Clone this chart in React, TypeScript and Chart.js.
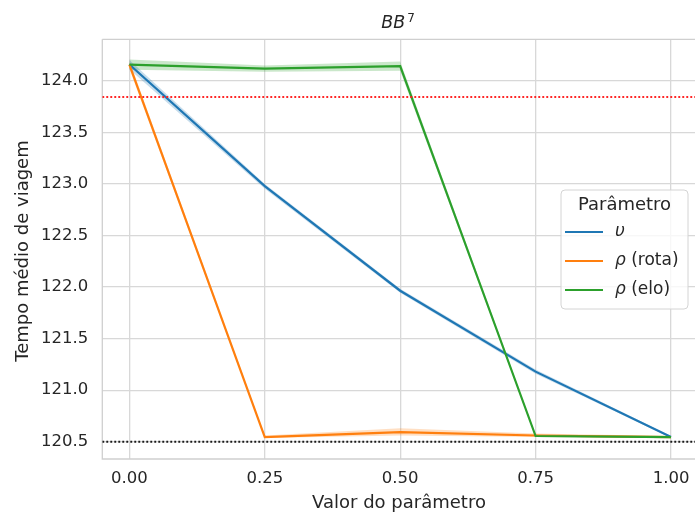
import React, { useEffect, useRef } from "react";
import { Chart, registerables } from "chart.js";

Chart.register(...registerables);

// ---------- data ----------
const xValues = [0, 0.25, 0.5, 0.75, 1.0];
const xTicks = [0, 0.25, 0.5, 0.75, 1.0];
const yTicks = [120.5, 121.0, 121.5, 122.0, 122.5, 123.0, 123.5, 124.0];
const xRange = [-0.05, 1.0443];
const yRange = [120.332, 124.405];

const seriesNames = ["υ", "ρ (rota)", "ρ (elo)"];
const seriesColors = ["#1f77b4", "#ff7f0e", "#2ca02c"];

const upsilonMean = [124.16, 122.98, 121.965, 121.18, 120.545];
const upsilonLow = [124.115, 122.955, 121.945, 121.16, 120.535];
const upsilonHigh = [124.205, 123.0, 121.985, 121.2, 120.555];

const rotaMean = [124.16, 120.545, 120.592, 120.56, 120.545];
const rotaLow = [124.12, 120.535, 120.56, 120.545, 120.535];
const rotaHigh = [124.2, 120.56, 120.63, 120.58, 120.555];

const eloMean = [124.16, 124.12, 124.145, 120.555, 120.545];
const eloLow = [124.11, 124.09, 124.1, 120.545, 120.535];
const eloHigh = [124.21, 124.15, 124.19, 120.57, 120.555];

const refRedValue = 123.845;
const refBlackValue = 120.5;

const FONT = "'DejaVu Sans', sans-serif";
const TEXT = "#262626";

function pts(ys: number[]) {
  return xValues.map((x, i) => ({ x, y: ys[i] }));
}

function hexA(hex: string, a: number) {
  const r = parseInt(hex.slice(1, 3), 16);
  const g = parseInt(hex.slice(3, 5), 16);
  const b = parseInt(hex.slice(5, 7), 16);
  return `rgba(${r},${g},${b},${a})`;
}

const decorPlugin = {
  id: "decor",
  beforeDatasetsDraw(chart: any) {
    const { ctx, chartArea } = chart;
    ctx.save();
    ctx.strokeStyle = "#cfcfcf";
    ctx.lineWidth = 1.3;
    ctx.beginPath();
    ctx.moveTo(chartArea.left, chartArea.top);
    ctx.lineTo(chartArea.right, chartArea.top);
    ctx.moveTo(chartArea.left, chartArea.top);
    ctx.lineTo(chartArea.left, chartArea.bottom);
    ctx.lineTo(chartArea.right, chartArea.bottom);
    ctx.stroke();
    ctx.restore();
  },
  afterDraw(chart: any) {
    const { ctx } = chart;
    ctx.save();
    ctx.fillStyle = TEXT;
    // Title BB^7
    ctx.font = `italic 17.5px ${FONT}`;
    const wBB = ctx.measureText("BB").width;
    ctx.font = `12px ${FONT}`;
    const w7 = ctx.measureText("7").width;
    const total = wBB + 2 + w7;
    const startX = 398 - total / 2;
    ctx.textBaseline = "alphabetic";
    ctx.textAlign = "left";
    ctx.font = `italic 17.5px ${FONT}`;
    ctx.fillText("BB", startX, 28);
    ctx.font = `12px ${FONT}`;
    ctx.fillText("7", startX + wBB + 2, 22);

    // axis labels
    ctx.font = `18px ${FONT}`;
    ctx.textAlign = "center";
    ctx.textBaseline = "middle";
    ctx.fillText("Valor do parâmetro", 399, 503);
    ctx.save();
    ctx.translate(23, 251);
    ctx.rotate(-Math.PI / 2);
    ctx.fillText("Tempo médio de viagem", 0, 0);
    ctx.restore();

    // legend
    const lx = 561, ly = 190, lw = 127, lh = 119, r = 4;
    ctx.beginPath();
    ctx.moveTo(lx + r, ly);
    ctx.lineTo(lx + lw - r, ly);
    ctx.quadraticCurveTo(lx + lw, ly, lx + lw, ly + r);
    ctx.lineTo(lx + lw, ly + lh - r);
    ctx.quadraticCurveTo(lx + lw, ly + lh, lx + lw - r, ly + lh);
    ctx.lineTo(lx + r, ly + lh);
    ctx.quadraticCurveTo(lx, ly + lh, lx, ly + lh - r);
    ctx.lineTo(lx, ly + r);
    ctx.quadraticCurveTo(lx, ly, lx + r, ly);
    ctx.closePath();
    ctx.fillStyle = "rgba(255,255,255,0.8)";
    ctx.fill();
    ctx.strokeStyle = "#d4d4d4";
    ctx.lineWidth = 1;
    ctx.stroke();

    ctx.fillStyle = TEXT;
    ctx.font = `18px ${FONT}`;
    ctx.textAlign = "center";
    ctx.fillText("Parâmetro", lx + lw / 2, 205);

    const rows = [232, 261, 290];
    seriesNames.forEach((name, i) => {
      const y = rows[i];
      ctx.strokeStyle = seriesColors[i];
      ctx.lineWidth = 2.2;
      ctx.beginPath();
      ctx.moveTo(565, y);
      ctx.lineTo(603, y);
      ctx.stroke();
      const sym = name.slice(0, 1);
      const rest = name.slice(1);
      ctx.fillStyle = TEXT;
      ctx.textAlign = "left";
      ctx.font = `italic 17px ${FONT}`;
      ctx.fillText(sym, 615, y);
      const ws = ctx.measureText(sym).width;
      ctx.font = `17px ${FONT}`;
      ctx.fillText(rest, 615 + ws, y);
    });
    ctx.restore();
  },
};

export default function App() {
  const ref = useRef<HTMLCanvasElement | null>(null);

  useEffect(() => {
    if (!ref.current) return;
    const means = [upsilonMean, rotaMean, eloMean];
    const lows = [upsilonLow, rotaLow, eloLow];
    const highs = [upsilonHigh, rotaHigh, eloHigh];
    const lineOrder = [3, 2, 1];

    const datasets: any[] = [];
    datasets.push({
      label: "ref-red",
      data: [{ x: xRange[0], y: refRedValue }, { x: xRange[1], y: refRedValue }],
      borderColor: "rgba(255,25,25,0.95)",
      borderWidth: 1.9,
      borderDash: [1.9, 2.1],
      pointRadius: 0,
      fill: false,
      order: 0,
    });
    datasets.push({
      label: "ref-black",
      data: [{ x: xRange[0], y: refBlackValue }, { x: xRange[1], y: refBlackValue }],
      borderColor: "#1a1a1a",
      borderWidth: 1.9,
      borderDash: [1.9, 2.1],
      pointRadius: 0,
      fill: false,
      order: 0,
    });
    seriesNames.forEach((name, i) => {
      datasets.push({
        label: name,
        data: pts(means[i]),
        borderColor: seriesColors[i],
        borderWidth: 2.2,
        pointRadius: 0,
        fill: false,
        order: lineOrder[i],
      });
    });
    seriesNames.forEach((name, i) => {
      const hiIndex = datasets.length;
      datasets.push({
        label: name + " hi",
        data: pts(highs[i]),
        borderWidth: 0,
        borderColor: "rgba(0,0,0,0)",
        pointRadius: 0,
        backgroundColor: hexA(seriesColors[i], 0.25),
        fill: hiIndex + 1,
        order: 10 + i,
      });
      datasets.push({
        label: name + " lo",
        data: pts(lows[i]),
        borderWidth: 0,
        borderColor: "rgba(0,0,0,0)",
        pointRadius: 0,
        fill: false,
        order: 10 + i,
      });
    });

    const chart = new Chart(ref.current, {
      type: "line",
      data: { datasets },
      options: {
        responsive: false,
        animation: false,
        devicePixelRatio: 1,
        layout: { padding: { top: 39.3, right: 0, left: 0, bottom: 0 } },
        plugins: {
          legend: { display: false },
          title: { display: false },
          tooltip: { enabled: false },
          filler: { propagate: false },
        },
        scales: {
          x: {
            type: "linear",
            min: xRange[0],
            max: xRange[1],
            afterBuildTicks: (s: any) => {
              s.ticks = xTicks.map((v) => ({ value: v }));
            },
            afterFit: (s: any) => {
              s.height = 61;
              s.paddingLeft = 0;
              s.paddingRight = 0;
            },
            ticks: {
              callback: (v: any) => Number(v).toFixed(2),
              font: { family: FONT, size: 16.5 },
              color: TEXT,
              padding: 10,
              maxRotation: 0,
              autoSkip: false,
            },
            grid: { color: "#d8d8d8", lineWidth: 1.3, drawTicks: false },
            border: { display: false },
          },
          y: {
            type: "linear",
            min: yRange[0],
            max: yRange[1],
            afterBuildTicks: (s: any) => {
              s.ticks = yTicks.map((v) => ({ value: v }));
            },
            afterFit: (s: any) => {
              s.width = 102.3;
              s.paddingTop = 0;
              s.paddingBottom = 0;
            },
            ticks: {
              callback: (v: any) => Number(v).toFixed(1),
              font: { family: FONT, size: 16.5 },
              color: TEXT,
              padding: 14,
              autoSkip: false,
            },
            grid: { color: "#d8d8d8", lineWidth: 1.3, drawTicks: false },
            border: { display: false },
          },
        },
      },
      plugins: [decorPlugin],
    });
    return () => chart.destroy();
  }, []);

  return (
    <div
      style={{
        position: "fixed",
        left: 0,
        top: 0,
        width: 695,
        height: 520,
        overflow: "hidden",
        background: "#ffffff",
      }}
    >
      <canvas ref={ref} width={695} height={520} style={{ width: 695, height: 520, display: "block" }} />
    </div>
  );
}
